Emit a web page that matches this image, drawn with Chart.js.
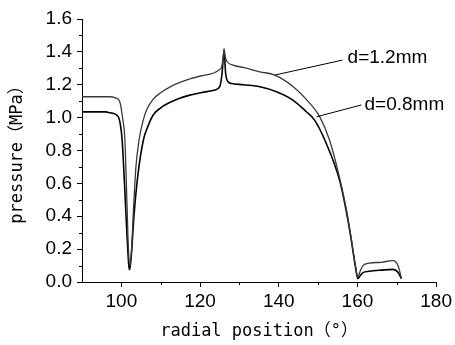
<!DOCTYPE html>
<html>
<head>
<meta charset="utf-8">
<script src="https://cdn.jsdelivr.net/npm/chart.js@4/dist/chart.umd.min.js"></script>
<style>
  body { margin: 0; background: #fff; }
  #wrap { width: 455px; height: 345px; }
</style>
</head>
<body>
<div id="wrap"><canvas id="pressureChart"></canvas></div>
<script>
// radial position (deg) and pressure (MPa) for d=1.2mm
var radialThick = [90, 95, 97.1, 98.5, 99.6, 100.3, 100.9, 101.4, 101.8, 102.2, 102.6, 103.1, 103.7, 104.5, 105.4, 106.4, 108, 109.8, 113, 117.4, 120.5, 123.3, 124.8, 125.5, 125.9, 126.1, 126.4, 126.9, 128.4, 131, 135.2, 139, 143.6, 147.9, 150.4, 152.9, 155.5, 157.2, 158.4, 159.5, 160.1, 160.6, 161.4, 163, 166, 169, 170.3, 171.2];
var pressureThick = [1.127, 1.127, 1.127, 1.12, 1.097, 1.0, 0.864, 0.5, 0.2, 0.10, 0.2, 0.45, 0.7, 0.864, 0.97, 1.046, 1.11, 1.148, 1.195, 1.235, 1.255, 1.27, 1.29, 1.31, 1.37, 1.42, 1.37, 1.34, 1.32, 1.305, 1.279, 1.259, 1.19, 1.087, 1.006, 0.864, 0.63, 0.44, 0.27, 0.1, 0.03, 0.06, 0.10, 0.115, 0.12, 0.13, 0.10, 0.02];

// radial position (deg) and pressure (MPa) for d=0.8mm
var radialThin = [90, 96, 97.1, 99.2, 99.8, 100.2, 100.8, 101.4, 101.9, 102.1, 102.5, 103.2, 104.2, 105.6, 106.8, 108.1, 110, 111.9, 114.5, 117.4, 120.5, 123.8, 125, 125.6, 126.1, 126.5, 127.1, 128, 131, 135.2, 139.4, 143.6, 147, 149.1, 151.7, 155.5, 157.2, 158.4, 159.5, 160.1, 160.6, 161.4, 163, 166, 169, 170.3, 171.2];
var pressureThin = [1.035, 1.035, 1.03, 1.006, 0.95, 0.864, 0.6, 0.3, 0.1, 0.075, 0.15, 0.4, 0.65, 0.864, 0.95, 1.016, 1.06, 1.087, 1.115, 1.137, 1.153, 1.168, 1.188, 1.27, 1.41, 1.27, 1.218, 1.208, 1.2, 1.188, 1.158, 1.107, 1.036, 0.985, 0.864, 0.615, 0.425, 0.26, 0.09, 0.02, 0.035, 0.057, 0.065, 0.072, 0.077, 0.06, 0.02];

var xTicks = [100, 120, 140, 160, 180];
var xMinorTicks = [110, 130, 150, 170];
var yTicks = [0, 0.2, 0.4, 0.6, 0.8, 1.0, 1.2, 1.4, 1.6];
var yMinorTicks = [0.1, 0.3, 0.5, 0.7, 0.9, 1.1, 1.3, 1.5];

// labels with leader lines: [text, text x, text y, line start x, line start y, line end x, line end y]
var seriesLabels = [
  ['d=1.2mm', 157.5, 1.362, 139.0, 1.259, 156.2, 1.35],
  ['d=0.8mm', 161.8, 1.077, 149.6, 1.005, 161.0, 1.077]
];

function toPoints(xs, ys) {
  var pts = [];
  for (var i = 0; i < xs.length; i++) pts.push({ x: xs[i], y: ys[i] });
  return pts;
}

var tickFont = { family: "'Liberation Sans', Arial, sans-serif", size: 19 };
var titleFont = { family: "'DejaVu Sans Mono', 'Noto Sans CJK SC', monospace", size: 17 };

// small minor ticks between the labelled ones
var minorTickPlugin = {
  id: 'minorTicks',
  afterDraw: function (chart) {
    var c = chart.ctx, xs = chart.scales.x, ys = chart.scales.y;
    var area = chart.chartArea;
    c.save();
    c.strokeStyle = '#000';
    c.lineWidth = 1;
    c.beginPath();
    xMinorTicks.forEach(function (v) {
      var px = Math.round(xs.getPixelForValue(v)) + 0.5;
      c.moveTo(px, area.bottom);
      c.lineTo(px, area.bottom + 3);
    });
    yMinorTicks.forEach(function (v) {
      var py = Math.round(ys.getPixelForValue(v)) + 0.5;
      c.moveTo(area.left, py);
      c.lineTo(area.left - 3, py);
    });
    c.stroke();
    c.restore();
  }
};

var seriesLabelPlugin = {
  id: 'seriesLabels',
  afterDatasetsDraw: function (chart) {
    var c = chart.ctx, xs = chart.scales.x, ys = chart.scales.y;
    c.save();
    c.strokeStyle = '#000';
    c.lineWidth = 1;
    c.fillStyle = '#000';
    c.font = "19px 'Liberation Sans', Arial, sans-serif";
    c.textBaseline = 'middle';
    c.textAlign = 'left';
    seriesLabels.forEach(function (s) {
      c.beginPath();
      c.moveTo(xs.getPixelForValue(s[3]), ys.getPixelForValue(s[4]));
      c.lineTo(xs.getPixelForValue(s[5]), ys.getPixelForValue(s[6]));
      c.stroke();
      c.fillText(s[0], xs.getPixelForValue(s[1]), ys.getPixelForValue(s[2]));
    });
    c.restore();
  }
};

var ctx = document.getElementById('pressureChart').getContext('2d');
var pressureChart = new Chart(ctx, {
  type: 'line',
  data: {
    datasets: [{
      label: 'd=1.2mm',
      data: toPoints(radialThick, pressureThick),
      borderColor: '#3a3a3a',
      borderWidth: 1.3,
      pointRadius: 0,
      fill: false,
      cubicInterpolationMode: 'monotone'
    }, {
      label: 'd=0.8mm',
      data: toPoints(radialThin, pressureThin),
      borderColor: '#000',
      borderWidth: 1.6,
      pointRadius: 0,
      fill: false,
      cubicInterpolationMode: 'monotone'
    }]
  },
  options: {
    responsive: true,
    maintainAspectRatio: false,
    animation: false,
    layout: { padding: { top: 19, right: 18, left: 0, bottom: 0 } },
    plugins: {
      legend: { display: false },
      tooltip: { enabled: false }
    },
    scales: {
      x: {
        type: 'linear',
        min: 90,
        max: 180,
        afterBuildTicks: function (scale) {
          scale.ticks = xTicks.map(function (v) { return { value: v }; });
        },
        afterFit: function (scale) { scale.height = 63; },
        grid: { drawOnChartArea: false, drawTicks: true, tickLength: 5, color: '#000' },
        border: { display: true, color: '#000', width: 1 },
        ticks: { color: '#000', font: tickFont, padding: 3, maxRotation: 0 },
        title: {
          display: true,
          text: 'radial position（°）',
          color: '#000',
          font: titleFont,
          padding: { top: 0, bottom: 3 }
        }
      },
      y: {
        min: 0,
        max: 1.6,
        afterBuildTicks: function (scale) {
          scale.ticks = yTicks.map(function (v) { return { value: v }; });
        },
        afterFit: function (scale) { scale.width = 82; },
        grid: { drawOnChartArea: false, drawTicks: true, tickLength: 5, color: '#000' },
        border: { display: true, color: '#000', width: 1 },
        ticks: {
          color: '#000',
          font: tickFont,
          padding: 5,
          callback: function (v) { return Number(v).toFixed(1); }
        },
        title: {
          display: true,
          text: 'pressure（MPa）',
          color: '#000',
          font: titleFont,
          padding: { top: 7, bottom: 0 }
        }
      }
    }
  },
  plugins: [minorTickPlugin, seriesLabelPlugin]
});
</script>
</body>
</html>
